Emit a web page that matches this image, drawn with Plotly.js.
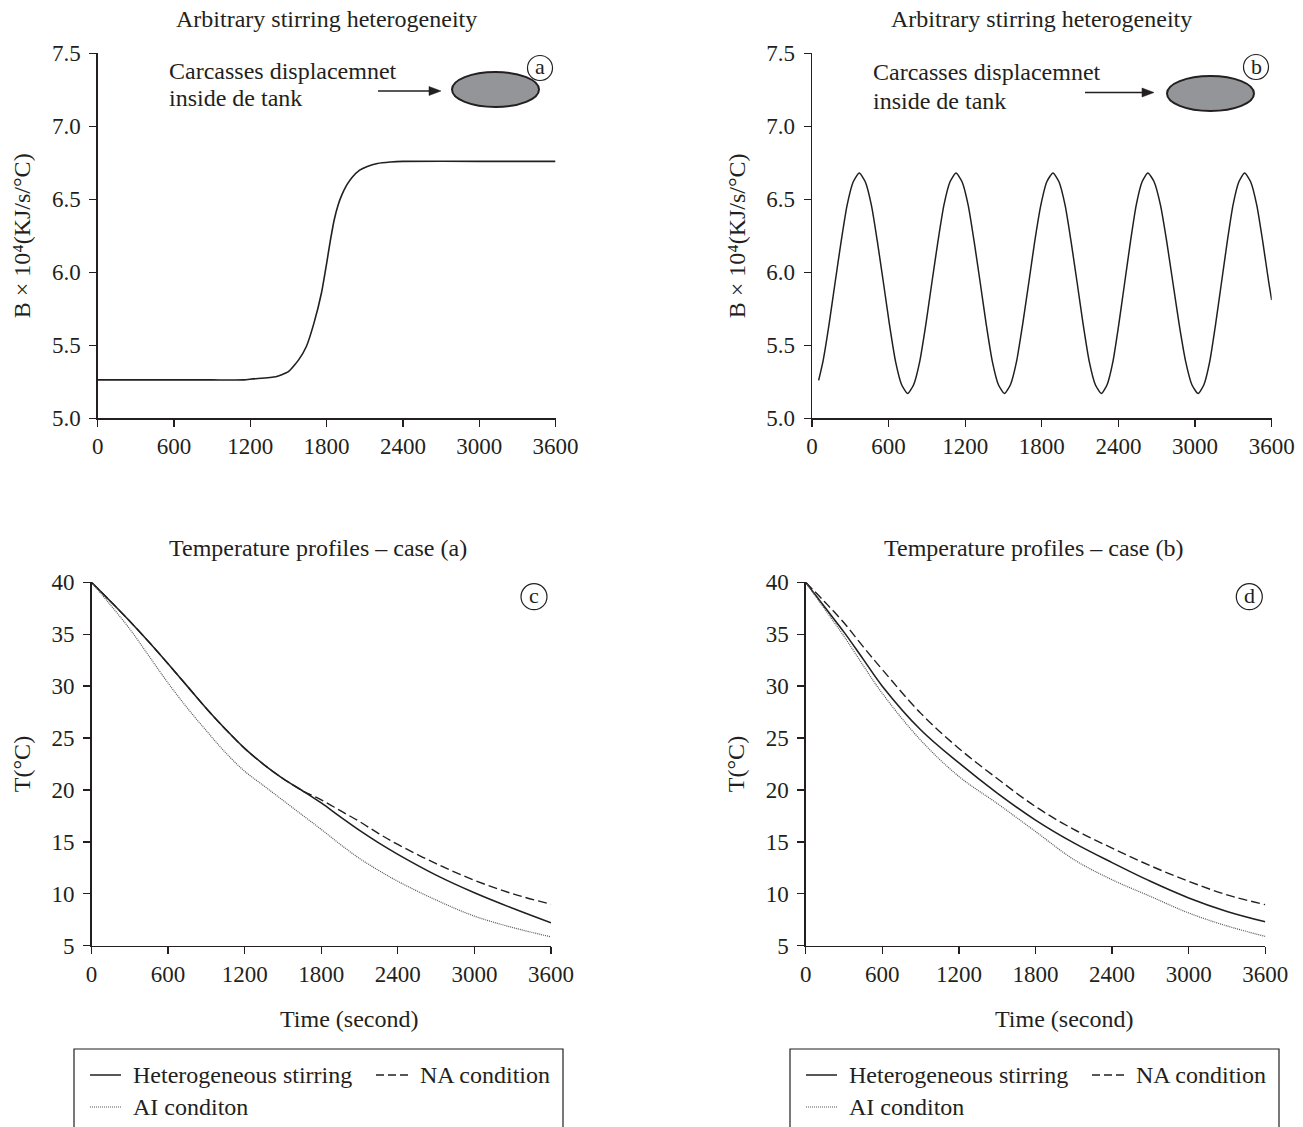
<!DOCTYPE html>
<html>
<head>
<meta charset="utf-8">
<script src="https://cdn.plot.ly/plotly-3.0.1.min.js"></script>
<style>html,body{margin:0;padding:0;background:#fff;}#chart{width:1303px;height:1127px;}</style>
</head>
<body>
<div id="chart"></div>
<script>
// ---------------- DATA ----------------
// Panel (a): stirring coefficient with one carcass displacement
const aTime = [0, 300, 600, 900, 1150, 1220, 1400, 1500, 1580, 1640, 1700, 1760, 1800, 1830, 1860, 1890, 1920, 1960, 2000, 2060, 2120, 2200, 2300, 2400, 3000, 3600];
const aB = [5.263, 5.263, 5.263, 5.263, 5.263, 5.27, 5.285, 5.32, 5.40, 5.49, 5.65, 5.86, 6.06, 6.22, 6.36, 6.46, 6.53, 6.60, 6.65, 6.70, 6.725, 6.745, 6.755, 6.76, 6.76, 6.76];

// Panel (b): oscillating stirring coefficient
const bTime = [52, 86, 133, 180, 228, 275, 323, 370,
  417, 465, 512, 560, 607, 654, 702, 749,
  796, 844, 891, 938, 986, 1033, 1081, 1128,
  1175, 1223, 1270, 1318, 1365, 1412, 1460, 1507,
  1554, 1602, 1649, 1697, 1744, 1792, 1839, 1887,
  1934, 1982, 2029, 2077, 2124, 2171, 2219, 2266,
  2311, 2357, 2402, 2448, 2494, 2539, 2585, 2630,
  2679, 2729, 2778, 2827, 2876, 2926, 2975, 3024,
  3069, 3115, 3160, 3206, 3252, 3297, 3343, 3388,
  3435, 3483, 3530, 3578, 3600];
const bB = [5.26, 5.39, 5.64, 5.925, 6.21, 6.46, 6.62, 6.68,
  6.62, 6.46, 6.21, 5.925, 5.64, 5.39, 5.23, 5.17,
  5.23, 5.39, 5.64, 5.925, 6.21, 6.46, 6.62, 6.68,
  6.62, 6.46, 6.21, 5.925, 5.64, 5.39, 5.23, 5.17,
  5.23, 5.39, 5.64, 5.925, 6.21, 6.46, 6.62, 6.68,
  6.62, 6.46, 6.21, 5.925, 5.64, 5.39, 5.23, 5.17,
  5.23, 5.39, 5.64, 5.925, 6.21, 6.46, 6.62, 6.68,
  6.62, 6.46, 6.21, 5.925, 5.64, 5.39, 5.23, 5.17,
  5.23, 5.39, 5.64, 5.925, 6.21, 6.46, 6.62, 6.68,
  6.62, 6.46, 6.21, 5.925, 5.81];

// Panel (c): temperature profiles, case (a)
const cTime = [0, 150, 300, 450, 600, 750, 900, 1050, 1200, 1350, 1500, 1650, 1800, 1950, 2100, 2250, 2400, 2700, 3000, 3300, 3600];
const cHetero = [40, 38.15, 36.25, 34.25, 32.15, 30.0, 27.85, 25.85, 24.0, 22.45, 21.1, 19.95, 18.75, 17.4, 16.1, 14.9, 13.8, 11.8, 10.1, 8.6, 7.2];
const cNA = [40, 38.15, 36.25, 34.25, 32.15, 30.0, 27.85, 25.85, 24.0, 22.45, 21.1, 19.95, 19.05, 18.0, 16.95, 15.8, 14.75, 12.9, 11.3, 10.0, 9.0];
const cAI = [40, 37.8, 35.5, 32.9, 30.3, 27.9, 25.7, 23.6, 21.8, 20.4, 19.0, 17.6, 16.2, 14.75, 13.4, 12.25, 11.2, 9.4, 7.85, 6.75, 5.85];

// Panel (d): temperature profiles, case (b)
const dTime = [0, 150, 300, 450, 600, 900, 1200, 1500, 1800, 2100, 2400, 2700, 3000, 3300, 3600];
const dHetero = [40, 37.6, 35.2, 32.6, 30.0, 25.8, 22.6, 19.7, 17.1, 14.9, 13.0, 11.2, 9.6, 8.3, 7.3];
const dNA = [40, 38.1, 36.1, 33.8, 31.6, 27.4, 24.0, 21.1, 18.4, 16.2, 14.4, 12.7, 11.2, 9.9, 8.95];
const dAI = [40, 37.4, 34.8, 32.0, 29.3, 24.8, 21.3, 18.7, 16.0, 13.3, 11.35, 9.75, 8.15, 6.9, 5.9];

// Labels
const seriesNames = ['Heterogeneous stirring', 'NA condition', 'AI conditon'];
const timeTicks = [0, 600, 1200, 1800, 2400, 3000, 3600];
const bTicks = [5.0, 5.5, 6.0, 6.5, 7.0, 7.5];
const tTicks = [5, 10, 15, 20, 25, 30, 35, 40];
const topTitle = 'Arbitrary stirring heterogeneity';
const bottomTitles = ['Temperature profiles – case (a)', 'Temperature profiles – case (b)'];
const bAxisTitle = 'B × 10⁴(KJ/s/°C)';
const tAxisTitle = 'T(°C)';
const timeTitle = 'Time (second)';
const noteLines = ['Carcasses displacemnet', 'inside de tank'];
const panelLetters = ['a', 'b', 'c', 'd'];

// ---------------- STYLE / LAYOUT ----------------
const W = 1303, H = 1127;
const px = v => v / W;
const py = v => 1 - v / H;
const INK = '#231f20';
const FONT = 'Liberation Serif, Times New Roman, serif';
const TXT = 24;

function line(x, y, dash, width, color, xa, ya, smooth) {
  return {x: x, y: y, xaxis: xa, yaxis: ya, mode: 'lines', type: 'scatter',
    line: {color: color || INK, width: width || 1.6, dash: dash || 'solid', shape: 'spline', smoothing: smooth || 1},
    showlegend: false, hoverinfo: 'x+y'};
}

const traces = [
  line(aTime, aB, 'solid', 1.6, INK, 'x', 'y', 0.5),
  line(bTime, bB, 'solid', 1.5, INK, 'x2', 'y2', 0.6),
  line(cTime, cNA, '9px,4px', 1.4, INK, 'x3', 'y3', 1),
  line(cTime, cHetero, 'solid', 1.6, INK, 'x3', 'y3', 1),
  line(cTime, cAI, '1px,1px', 1.2, '#555', 'x3', 'y3', 1),
  line(dTime, dNA, '9px,4px', 1.4, INK, 'x4', 'y4', 1),
  line(dTime, dHetero, 'solid', 1.6, INK, 'x4', 'y4', 1),
  line(dTime, dAI, '1px,1px', 1.2, '#555', 'x4', 'y4', 1)
];
traces[2].name = seriesNames[1]; traces[3].name = seriesNames[0]; traces[4].name = seriesNames[2];
traces[5].name = seriesNames[1]; traces[6].name = seriesNames[0]; traces[7].name = seriesNames[2];

function xax(d0, d1, anchor) {
  return {domain: [px(d0), px(d1)], anchor: anchor, range: [0, 3600], tickvals: timeTicks,
    showline: true, linecolor: INK, linewidth: 1.3, ticks: 'outside', ticklen: 7, tickwidth: 1.3, tickcolor: INK,
    showgrid: false, zeroline: false, ticklabelstandoff: 0,
    tickfont: {family: FONT, size: 23, color: INK}, fixedrange: true};
}
function yax(d0, d1, anchor, range, ticks, fmt, title, standoff) {
  return {domain: [py(d1), py(d0)], anchor: anchor, range: range, tickvals: ticks, tickformat: fmt,
    showline: true, linecolor: INK, linewidth: 1.3, ticks: 'outside', ticklen: 7, tickwidth: 1.3, tickcolor: INK,
    showgrid: false, zeroline: false, ticklabelstandoff: 4,
    tickfont: {family: FONT, size: 23, color: INK},
    title: {text: title, font: {family: FONT, size: TXT, color: INK}, standoff: standoff}, fixedrange: true};
}

const A = {x0: 97.7, x1: 555.5, y0: 53.3, y1: 418.3};
const B = {x0: 812, x1: 1271.7, y0: 53.3, y1: 418.3};
const C = {x0: 91.5, x1: 551, y0: 582.3, y1: 945.7};
const D = {x0: 805.7, x1: 1265.3, y0: 582.3, y1: 945.7};

const annotations = [];
const shapes = [];
function txt(text, x, y, opts) {
  annotations.push(Object.assign({text: text, x: px(x), y: py(y), xref: 'paper', yref: 'paper',
    showarrow: false, xanchor: 'center', yanchor: 'middle',
    font: {family: FONT, size: TXT, color: INK}}, opts || {}));
}
// panel titles
txt(topTitle, (A.x0 + A.x1) / 2, 19);
txt(topTitle, (B.x0 + B.x1) / 2, 19);
txt(bottomTitles[0], 318, 548);
txt(bottomTitles[1], 1034, 548);
txt(timeTitle, 348.5, 1019);
txt(timeTitle, 1063.5, 1019);

// notes + arrows + ellipses
const notes = [
  {tx: 167, ty1: 71, ty2: 98, ax0: 378, ax1: 441, ay: 91, ex0: 452, ex1: 539, ey0: 72, ey1: 107, cx: 540, cy: 68, letter: panelLetters[0]},
  {tx: 871, ty1: 72, ty2: 101, ax0: 1085, ax1: 1154, ay: 92.5, ex0: 1167, ex1: 1254, ey0: 76, ey1: 111, cx: 1256, cy: 67, letter: panelLetters[1]}
];
notes.forEach(n => {
  txt(noteLines[0], n.tx, n.ty1, {xanchor: 'left'});
  txt(noteLines[1], n.tx, n.ty2, {xanchor: 'left'});
  shapes.push({type: 'line', xref: 'paper', yref: 'paper', x0: px(n.ax0), x1: px(n.ax1 - 10), y0: py(n.ay), y1: py(n.ay),
    line: {color: INK, width: 1.3}});
  shapes.push({type: 'path', xref: 'paper', yref: 'paper',
    path: 'M ' + px(n.ax1) + ' ' + py(n.ay) + ' L ' + px(n.ax1 - 12) + ' ' + py(n.ay - 4.5) + ' L ' + px(n.ax1 - 12) + ' ' + py(n.ay + 4.5) + ' Z',
    fillcolor: INK, line: {color: INK, width: 0.5}});
  shapes.push({type: 'circle', xref: 'paper', yref: 'paper', x0: px(n.ex0), x1: px(n.ex1), y0: py(n.ey1), y1: py(n.ey0),
    fillcolor: '#939598', line: {color: INK, width: 2}});
  shapes.push({type: 'circle', xref: 'paper', yref: 'paper', x0: px(n.cx - 12.5), x1: px(n.cx + 12.5), y0: py(n.cy + 12.5), y1: py(n.cy - 12.5),
    fillcolor: 'rgba(255,255,255,0)', line: {color: INK, width: 1.2}});
  txt(n.letter, n.cx, n.cy - 1, {font: {family: FONT, size: 22, color: INK}});
});
[[534, 596.7, panelLetters[2]], [1249.3, 596.7, panelLetters[3]]].forEach(c => {
  shapes.push({type: 'circle', xref: 'paper', yref: 'paper', x0: px(c[0] - 13), x1: px(c[0] + 13), y0: py(c[1] + 13), y1: py(c[1] - 13),
    line: {color: INK, width: 1.2}});
  txt(c[2], c[0], c[1] - 1, {font: {family: FONT, size: 22, color: INK}});
});

// legends (boxed, two rows)
[0, 716].forEach(off => {
  shapes.push({type: 'rect', xref: 'paper', yref: 'paper', x0: px(74 + off), x1: px(563 + off), y0: py(1140), y1: py(1049),
    line: {color: INK, width: 1.2}, fillcolor: 'rgba(0,0,0,0)'});
  shapes.push({type: 'line', xref: 'paper', yref: 'paper', x0: px(90 + off), x1: px(121 + off), y0: py(1075), y1: py(1075), line: {color: INK, width: 1.5}});
  shapes.push({type: 'line', xref: 'paper', yref: 'paper', x0: px(376 + off), x1: px(412 + off), y0: py(1075), y1: py(1075), line: {color: INK, width: 1.4, dash: '8px,4px'}});
  shapes.push({type: 'line', xref: 'paper', yref: 'paper', x0: px(90 + off), x1: px(121 + off), y0: py(1107), y1: py(1107), line: {color: '#555', width: 1.2, dash: '1px,1px'}});
  txt(seriesNames[0], 131 + off, 1075, {xanchor: 'left'});
  txt(seriesNames[1], 418 + off, 1075, {xanchor: 'left'});
  txt(seriesNames[2], 131 + off, 1107, {xanchor: 'left'});
});

const layout = {
  width: W, height: H, margin: {l: 0, r: 0, t: 0, b: 0},
  paper_bgcolor: '#fff', plot_bgcolor: '#fff', showlegend: false,
  font: {family: FONT, color: INK},
  xaxis: xax(A.x0, A.x1, 'y'),
  yaxis: yax(A.y0, A.y1, 'x', [5, 7.5], bTicks, '.1f', bAxisTitle, 14),
  xaxis2: xax(B.x0, B.x1, 'y2'),
  yaxis2: yax(B.y0, B.y1, 'x2', [5, 7.5], bTicks, '.1f', bAxisTitle, 14),
  xaxis3: xax(C.x0, C.x1, 'y3'),
  yaxis3: yax(C.y0, C.y1, 'x3', [5, 40], tTicks, 'd', tAxisTitle, 14),
  xaxis4: xax(D.x0, D.x1, 'y4'),
  yaxis4: yax(D.y0, D.y1, 'x4', [5, 40], tTicks, 'd', tAxisTitle, 14),
  annotations: annotations, shapes: shapes
};

Plotly.newPlot('chart', traces, layout, {displayModeBar: false, staticPlot: true});
</script>
</body>
</html>
